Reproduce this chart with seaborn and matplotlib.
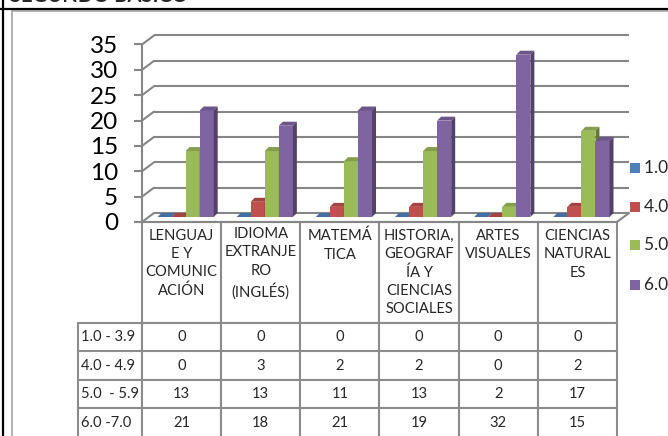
import numpy as np
import pandas as pd
import matplotlib
matplotlib.use("Agg")
import matplotlib.pyplot as plt
import seaborn as sns
from matplotlib.patches import Polygon, Rectangle
from matplotlib.transforms import ScaledTranslation, IdentityTransform
from matplotlib.lines import Line2D

# ---------------- data ----------------
title = "SEGUNDO BÁSICO"
subjects = ["LENGUAJ\nE Y\nCOMUNIC\nACIÓN",
            "IDIOMA\nEXTRANJE\nRO\n(INGLÉS)",
            "MATEMÁ\nTICA",
            "HISTORIA,\nGEOGRAF\nÍA Y\nCIENCIAS\nSOCIALES",
            "ARTES\nVISUALES",
            "CIENCIAS\nNATURAL\nES"]
ranges = ["1.0 - 3.9", "4.0 - 4.9", "5.0  - 5.9", "6.0 -7.0"]
r_1_39 = [0, 0, 0, 0, 0, 0]
r_4_49 = [0, 3, 2, 2, 0, 2]
r_5_59 = [13, 13, 11, 13, 2, 17]
r_6_70 = [21, 18, 21, 19, 32, 15]
yticks = [0, 5, 10, 15, 20, 25, 30, 35]
colors = ["#4F81BD", "#C0504D", "#9BBB59", "#8064A2"]

series = [r_1_39, r_4_49, r_5_59, r_6_70]
df = pd.DataFrame({
    "subject": [s for _ in ranges for s in subjects],
    "range": [r for r in ranges for _ in subjects],
    "value": [v for ser in series for v in ser],
})

# ---------------- style ----------------
sns.set_style("white")
plt.rcParams["font.family"] = ["Lato", "DejaVu Sans"]

W, H = 668, 436
DPI = 100
fig = plt.figure(figsize=(W / DPI, H / DPI), dpi=DPI)
fig.patch.set_facecolor("white")

def fx(px):
    return px / W

def fy(py):
    return 1 - py / H

GRID = "#868686"
X0, X1, Y0, Y1 = 142, 617, 222, 44.5
ax = fig.add_axes([fx(X0), fy(Y0), fx(X1) - fx(X0), fy(Y1) - fy(Y0)])
ax.set_facecolor("none")

sns.barplot(data=df, x="subject", y="value", hue="range", palette=colors,
            width=0.71, saturation=1, dodge=True, errorbar=None,
            linewidth=0, legend=False, ax=ax)
ax.set_xlim(-0.5, 5.5)
ax.set_ylim(0, 35)
ax.set_yticks(yticks)
ax.set_xticks([])
ax.set_xlabel("")
ax.set_ylabel("")
for s in ["top", "right", "bottom"]:
    ax.spines[s].set_visible(False)
ax.spines["left"].set_color(GRID)
ax.spines["left"].set_linewidth(1.5)
ax.tick_params(axis="y", left=True, length=8 * 72 / DPI, width=1.5,
               color=GRID, pad=16 * 72 / DPI, labelsize=17.5, labelcolor="black")

# 3D back plane offset (pixels, display coords: right, up)
BDX, BDY = 12, 9
back = ax.transData + ScaledTranslation(BDX / DPI, BDY / DPI, fig.dpi_scale_trans)
for t in yticks:
    ax.plot([-0.5, 5.5], [t, t], transform=back, color=GRID, lw=1.5,
            clip_on=False, zorder=0.5, solid_capstyle="butt")
    p = ax.transData.transform((-0.5, t))
    ax.add_line(Line2D([p[0], p[0] + BDX], [p[1], p[1] + BDY],
                       transform=IdentityTransform(), color=GRID, lw=1.5,
                       clip_on=False, zorder=0.5))
# floor front & right edge
pl = ax.transData.transform((-0.5, 0))
pr = ax.transData.transform((5.5, 0))
ax.add_line(Line2D([pl[0], pr[0]], [pl[1], pr[1]], transform=IdentityTransform(),
                   color=GRID, lw=1.5, clip_on=False, zorder=0.5))
ax.add_line(Line2D([pr[0], pr[0] + BDX], [pr[1], pr[1] + BDY],
                   transform=IdentityTransform(), color=GRID, lw=1.5,
                   clip_on=False, zorder=0.5))

# 3D bars: shift the seaborn bars to the mid-depth plane, add top & side faces
MDX, MDY = 4, 5
DDX, DDY = 4, 4
mid = ax.transData + ScaledTranslation(MDX / DPI, MDY / DPI, fig.dpi_scale_trans)
bars = []
for ci, cont in enumerate(ax.containers):
    for bar in cont:
        bars.append((bar.get_x(), ci, bar))
bars.sort(key=lambda b: b[0])

def shade(c, f):
    rgb = np.array(matplotlib.colors.to_rgb(c))
    return tuple(rgb * f)

for k, (xpos, ci, bar) in enumerate(bars):
    z = 2 + k * 0.01
    bar.set_transform(mid)
    bar.set_zorder(z)
    bar.set_clip_on(False)
    x_l, w, h = bar.get_x(), bar.get_width(), bar.get_height()
    (a_x, a_y) = ax.transData.transform((x_l, 0))
    (b_x, b_y) = ax.transData.transform((x_l + w, h))
    a_x += MDX; b_x += MDX; a_y += MDY; b_y += MDY
    col = colors[ci]
    top = Polygon([(a_x, b_y), (b_x, b_y), (b_x + DDX, b_y + DDY), (a_x + DDX, b_y + DDY)],
                  closed=True, transform=IdentityTransform(), facecolor=shade(col, 0.85),
                  edgecolor="none", zorder=z + 0.001, clip_on=False)
    side = Polygon([(b_x, a_y), (b_x, b_y), (b_x + DDX, b_y + DDY), (b_x + DDX, a_y + DDY)],
                   closed=True, transform=IdentityTransform(), facecolor=shade(col, 0.65),
                   edgecolor="none", zorder=z + 0.002, clip_on=False)
    ax.add_patch(top)
    ax.add_patch(side)

# ---------------- data table ----------------
max_lines = max(s.count("\n") + 1 for s in subjects)
col_labels = [s + "\n" * (max_lines - (s.count("\n") + 1)) for s in subjects]
cell_text = [[str(v) for v in ser] for ser in series]
ppx = (X1 - X0)           # axes width in px
ppy = (Y0 - Y1)           # axes height in px
HEAD_H, ROW_H, LAB_W, COL_W = 101, 28.5, 68, (X1 - X0) / 6
TB = Y0 + HEAD_H + 4 * ROW_H
# bbox covers the data grid only; the row-label column is placed left of it
bbox = [0, -(TB - Y0) / ppy, 1, (TB - Y0) / ppy]
tab = ax.table(cellText=cell_text, rowLabels=ranges, colLabels=col_labels,
               cellLoc="center", rowLoc="left", colLoc="center", bbox=bbox)
tab.auto_set_font_size(False)
FS = 10.6
tab.set_fontsize(FS)
for (r, c), cell in tab.get_celld().items():
    cell.set_edgecolor("#8c8c8c")
    cell.set_linewidth(1.5)
    cell.set_width((LAB_W if c == -1 else COL_W) / ppx)
    cell.set_height((HEAD_H if r == 0 else ROW_H) / ppy)
    cell.get_text().set_fontsize(FS)
    if r == 0:
        cell.get_text().set_linespacing(1.38)
    if c == -1:
        cell.PAD = 0.05

# ---------------- legend (clipped at figure edge like the reference) ----------------
leg_y = [168, 207, 245, 285]
for lab, col, yc in zip(ranges, colors, leg_y):
    fig.patches.append(Rectangle((fx(630), fy(yc + 5)), 10 / W, 10 / H,
                                 transform=fig.transFigure, facecolor=col,
                                 edgecolor="none"))
    fig.text(fx(644), fy(yc), lab, fontsize=12.5, va="center", ha="left")

# ---------------- frame lines & title ----------------
fig.add_artist(Line2D([fx(12), fx(12)], [0, fy(11)], color="#a6a6a6", lw=1.2))
fig.add_artist(Line2D([fx(12), 1], [fy(11), fy(11)], color="#a6a6a6", lw=1.2))
fig.add_artist(Line2D([0, 1], [fy(9), fy(9)], color="black", lw=1.6))
fig.add_artist(Line2D([fx(3), fx(3)], [0, 1], color="black", lw=1.6))
fig.text(fx(10), fy(2), title, fontsize=14.5, fontweight="bold", va="baseline", ha="left")

fig.savefig("out.png", dpi=DPI)
